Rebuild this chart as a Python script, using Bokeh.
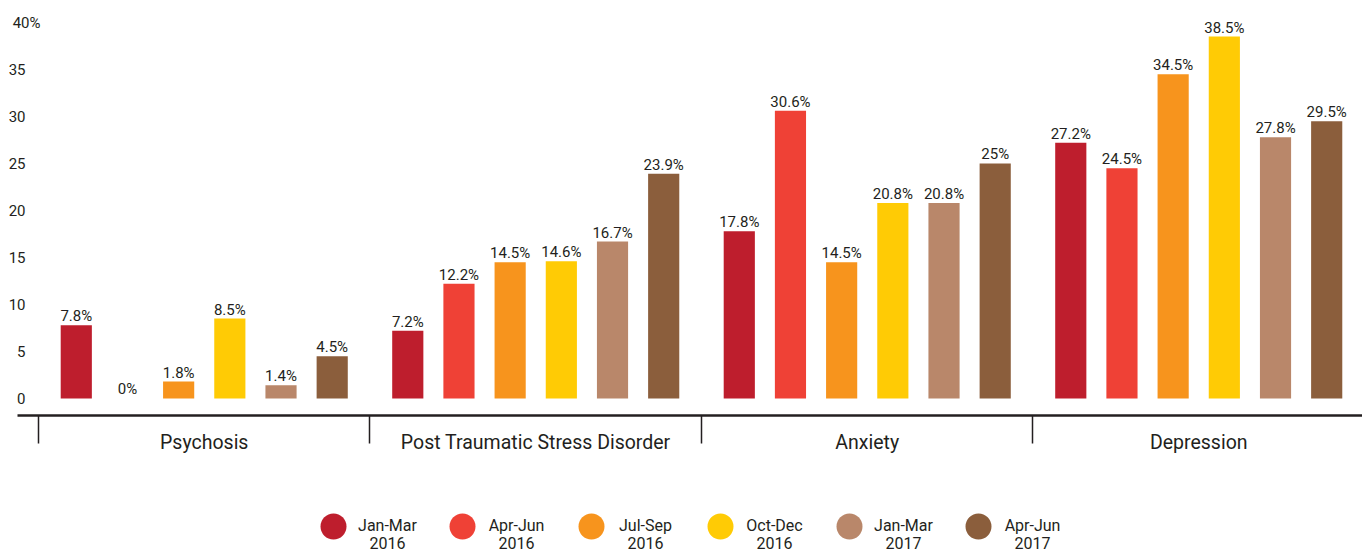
from bokeh.plotting import figure
from bokeh.models import ColumnDataSource, Range1d, LinearAxis, FixedTicker
from bokeh.transform import dodge
from bokeh.layouts import column
from bokeh.core.properties import value
from bokeh.embed import file_html
from bokeh.resources import INLINE

categories = ["Psychosis", "Post Traumatic Stress Disorder", "Anxiety", "Depression"]
periods = ["Jan-Mar", "Apr-Jun", "Jul-Sep", "Oct-Dec", "Jan-Mar", "Apr-Jun"]
years = ["2016", "2016", "2016", "2016", "2017", "2017"]
colors = ["#BE1E2D", "#EF4136", "#F7941D", "#FFCB05", "#B9876A", "#8B5E3C"]

jan_mar_2016 = [7.8, 7.2, 17.8, 27.2]
apr_jun_2016 = [0, 12.2, 30.6, 24.5]
jul_sep_2016 = [1.8, 14.5, 14.5, 34.5]
oct_dec_2016 = [8.5, 14.6, 20.8, 38.5]
jan_mar_2017 = [1.4, 16.7, 20.8, 27.8]
apr_jun_2017 = [4.5, 23.9, 25, 29.5]
series_values = [jan_mar_2016, apr_jun_2016, jul_sep_2016, oct_dec_2016, jan_mar_2017, apr_jun_2017]

y_ticks = [0, 5, 10, 15, 20, 25, 30, 35, 40]

TEXT = "#231F20"
FONT = "Roboto"

p = figure(width=1362, height=500, output_backend="svg", toolbar_location=None,
           x_range=Range1d(-0.1146, 3.994), y_range=Range1d(-1.81, 41.49),
           x_axis_type=None, y_axis_type=None,
           min_border_left=0, min_border_right=0, min_border_top=8, min_border_bottom=85)
p.grid.visible = False
p.outline_line_color = None
p.background_fill_color = "white"

step = 0.1544
bar_w = 0.094
n = len(series_values)
for j, vals in enumerate(series_values):
    off = (j - (n - 1) / 2) * step
    src = ColumnDataSource(dict(g=[i + 0.5 for i in range(len(categories))],
                                v=vals,
                                lab=[f"{v:g}%" for v in vals]))
    p.vbar(x=dodge("g", off), top="v", bottom=0, width=bar_w, source=src,
           fill_color=colors[j], line_color=None)
    p.text(x=dodge("g", off), y="v", text="lab", source=src,
           text_align="center", text_baseline="alphabetic", y_offset=-9,
           text_font=value(FONT), text_font_size="15px", text_color=TEXT)

# x axis: labels at group centers, separators as minor ticks at boundaries
xaxis = LinearAxis(ticker=FixedTicker(ticks=[i + 0.5 for i in range(len(categories))],
                                      minor_ticks=list(range(len(categories) + 1))),
                   bounds=(-0.0633, 3.994))
xaxis.major_label_overrides = {i + 0.5: c for i, c in enumerate(categories)}
xaxis.major_tick_out = 0
xaxis.major_tick_in = 0
xaxis.minor_tick_out = 28
xaxis.minor_tick_in = 0
xaxis.minor_tick_line_color = TEXT
xaxis.minor_tick_line_width = 1.5
xaxis.axis_line_color = TEXT
xaxis.axis_line_width = 2.5
xaxis.major_label_standoff = -13
xaxis.major_label_text_font = FONT
xaxis.major_label_text_font_size = "19.5px"
xaxis.major_label_text_color = TEXT
p.add_layout(xaxis, "below")

# y axis labels drawn inside the frame
def make_yaxis(ticks, loc):
    ax = LinearAxis(ticker=FixedTicker(ticks=ticks), fixed_location=loc)
    ax.axis_line_color = None
    ax.major_tick_line_color = None
    ax.minor_tick_line_color = None
    ax.major_tick_out = 0
    ax.major_tick_in = 0
    ax.major_label_standoff = 0
    ax.major_label_text_font = FONT
    ax.major_label_text_font_size = "15px"
    ax.major_label_text_color = TEXT
    return ax

ya = make_yaxis(y_ticks[:-1], -0.0392)
p.add_layout(ya, "left")
yb = make_yaxis(y_ticks[-1:], 0.006)
yb.major_label_overrides = {y_ticks[-1]: f"{y_ticks[-1]}%"}
p.add_layout(yb, "left")

# legend figure
leg = figure(width=1362, height=52, output_backend="svg", toolbar_location=None,
             x_range=Range1d(-333 / 129, (1362 - 333) / 129), y_range=Range1d(-1, 1),
             x_axis_type=None, y_axis_type=None,
             min_border=0)
leg.grid.visible = False
leg.outline_line_color = None
lsrc = ColumnDataSource(dict(i=list(range(len(periods))), y=[0] * len(periods),
                             per=periods, yr=years, c=colors))
leg.scatter(x="i", y="y", source=lsrc, size=26, marker="circle", fill_color="c", line_color=None)
leg.text(x="i", y="y", text="per", source=lsrc, x_offset=54, y_offset=-1,
         text_align="center", text_baseline="middle",
         text_font=value(FONT), text_font_size="16px", text_color=TEXT)
leg.text(x="i", y="y", text="yr", source=lsrc, x_offset=54, y_offset=16,
         text_align="center", text_baseline="middle",
         text_font=value(FONT), text_font_size="16px", text_color=TEXT)

layout = column(p, leg, spacing=0)
open("out.html", "w").write(file_html(layout, INLINE))
